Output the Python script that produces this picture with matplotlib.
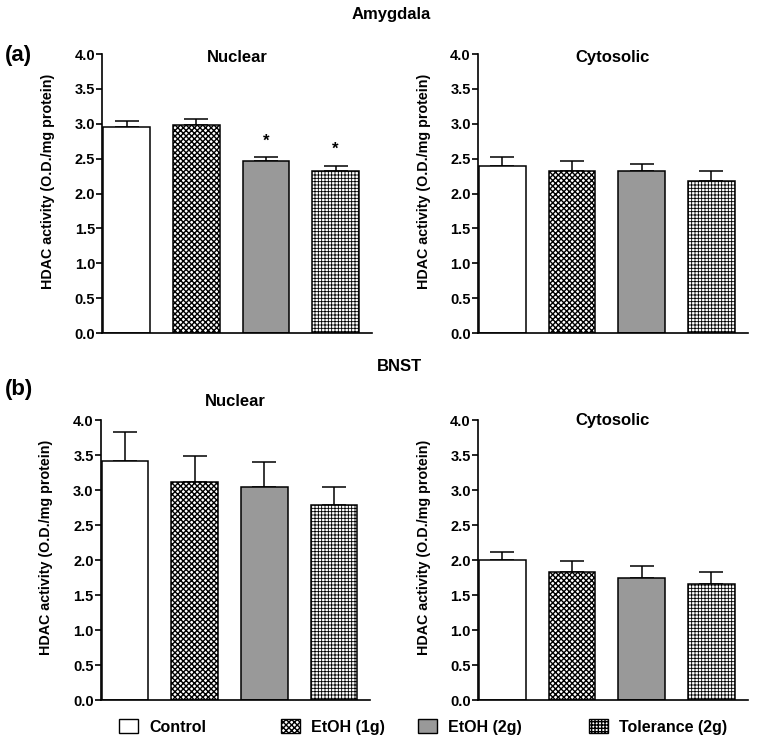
import numpy as np
import matplotlib
matplotlib.use('Agg')
import matplotlib.pyplot as plt
from matplotlib.patches import Patch

plt.rcParams['font.family'] = ['Liberation Sans', 'DejaVu Sans']
plt.rcParams['font.weight'] = 'bold'

groups = ['Control', 'EtOH (1g)', 'EtOH (2g)', 'Tolerance (2g)']

amy_nuc = [2.96, 2.98, 2.47, 2.32]
amy_nuc_err = [0.08, 0.09, 0.05, 0.08]
amy_cyt = [2.40, 2.32, 2.32, 2.18]
amy_cyt_err = [0.13, 0.14, 0.10, 0.14]
bnst_nuc = [3.41, 3.12, 3.05, 2.78]
bnst_nuc_err = [0.42, 0.37, 0.35, 0.26]
bnst_cyt = [2.00, 1.83, 1.74, 1.66]
bnst_cyt_err = [0.11, 0.15, 0.18, 0.17]
amy_nuc_sig = [False, False, True, True]

faces = ['white', 'white', '#999999', 'white']
hatches = [None, 'xxxxxx', None, '+++++']
hatch_lw = [0.6, 1.0, 0.6, 0.6]

fig = plt.figure(figsize=(7.62, 7.44), dpi=100)


def panel(rect, vals, errs, title, title_y, sig=None):
	ax = fig.add_axes(rect)
	x = np.arange(len(vals))
	for i in range(len(vals)):
		with plt.rc_context({'hatch.linewidth': hatch_lw[i]}):
			ax.bar(x[i], vals[i], width=0.67, color=faces[i], hatch=hatches[i],
				edgecolor='black', linewidth=1.1, zorder=2)
		ax.errorbar(x[i], vals[i], yerr=[[0], [errs[i]]], fmt='none',
			ecolor='black', elinewidth=1.1, capsize=8.5, capthick=1.1, zorder=1)
		if sig is not None and sig[i]:
			ax.text(x[i], vals[i] + errs[i] + 0.12, '*', ha='center', va='bottom',
				fontsize=12, fontweight='bold')
	ax.set_xlim(-0.35, 3.52)
	ax.set_ylim(0, 4.0)
	ax.set_yticks(np.arange(0, 4.01, 0.5))
	ax.set_yticklabels(['%.1f' % v for v in np.arange(0, 4.01, 0.5)])
	ax.set_xticks([])
	for s in ['top', 'right']:
		ax.spines[s].set_visible(False)
	for s in ['left', 'bottom']:
		ax.spines[s].set_linewidth(1.2)
	ax.tick_params(axis='y', labelsize=10.5, width=1.2, length=4, pad=1)
	ax.set_ylabel('HDAC activity (O.D./mg protein)', fontsize=10.3, fontweight='bold')
	ax.yaxis.set_label_coords(-0.175, 0.545)
	ax.text(0.5, title_y, title, transform=ax.transAxes, ha='center', va='center',
		fontsize=12, fontweight='bold')
	return ax


panel([0.134, 0.5524, 0.354, 0.375], amy_nuc, amy_nuc_err, 'Nuclear', 0.986, amy_nuc_sig)
panel([0.627, 0.5524, 0.354, 0.375], amy_cyt, amy_cyt_err, 'Cytosolic', 0.986)
panel([0.132, 0.0591, 0.354, 0.3763], bnst_nuc, bnst_nuc_err, 'Nuclear', 1.068)
panel([0.627, 0.0591, 0.354, 0.3763], bnst_cyt, bnst_cyt_err, 'Cytosolic', 1.0)

fig.text(0.513, 0.981, 'Amygdala', ha='center', va='center', fontsize=12, fontweight='bold')
fig.text(0.524, 0.507, 'BNST', ha='center', va='center', fontsize=12, fontweight='bold')
fig.text(0.006, 0.926, '(a)', ha='left', va='center', fontsize=16, fontweight='bold')
fig.text(0.006, 0.476, '(b)', ha='left', va='center', fontsize=16, fontweight='bold')

leg_x = [119, 281, 418, 589]
for i in range(4):
	with plt.rc_context({'hatch.linewidth': hatch_lw[i]}):
		h = Patch(facecolor=faces[i], hatch=hatches[i], edgecolor='black', linewidth=1.0)
	fig.legend([h], [groups[i]], loc='center left',
		bbox_to_anchor=(leg_x[i] / 762.0, 0.023), borderaxespad=0, borderpad=0,
		frameon=False, handlelength=1.2, handleheight=1.0, handletextpad=0.7,
		prop={'size': 11.5, 'weight': 'bold'})

fig.savefig('out.png', dpi=100)
